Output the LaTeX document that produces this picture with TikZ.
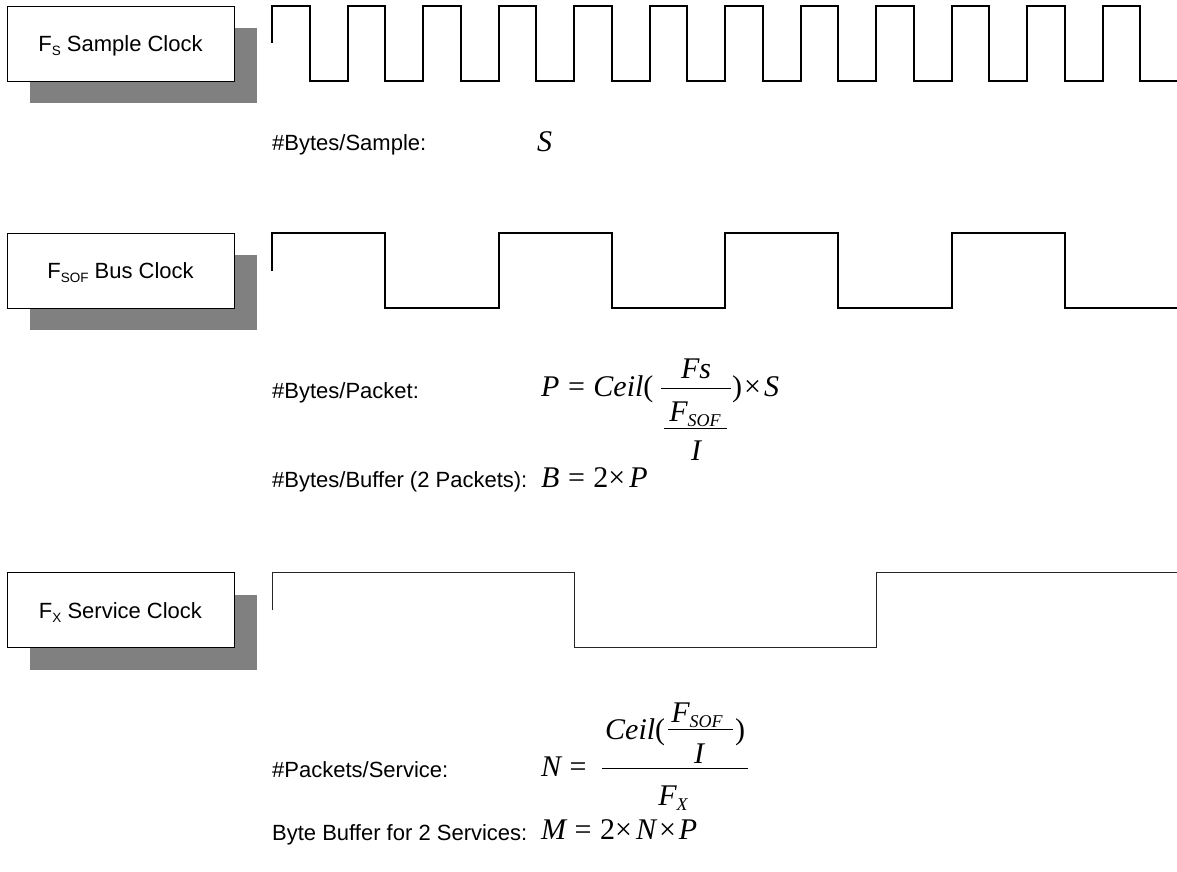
\documentclass[tikz,border=0pt]{standalone}
\usepackage{fontspec}
\setmainfont{Liberation Sans}
\newfontfamily\tms{Liberation Serif}
\usetikzlibrary{shadows}
\definecolor{shadowgray}{HTML}{808080}
\newcommand\lblfont{\fontsize{22}{26}\selectfont}
\newcommand\mfont{\fontsize{30}{34}\selectfont\tms\itshape}
\newcommand\up[1]{{\upshape #1}}
\newcommand\eqs{\hspace{8.5pt}\up{=}\hspace{8.5pt}}
\newcommand\bsub[1]{\raisebox{-4pt}{\fontsize{13.5}{14}\selectfont #1}}
\newcommand\msub[1]{\raisebox{-5pt}{\fontsize{18}{18}\selectfont #1}}
\begin{document}
\begin{tikzpicture}[x=1pt,y=-1pt,
  clockbox/.style={draw=black, line width=0.8pt, fill=white, minimum width=227pt, minimum height=75pt,
    inner sep=0pt, text height=16pt, text depth=0pt, font=\lblfont,
    drop shadow={shadow xshift=23pt, shadow yshift=-22pt, fill=shadowgray, opacity=1}},
  lbl/.style={font=\lblfont, anchor=base west, inner sep=0pt},
  mth/.style={font=\mfont, anchor=base west, inner sep=0pt},
  mthc/.style={font=\mfont, anchor=base, inner sep=0pt},
  fastwave/.style={line width=2pt, line join=miter},
  slowwave/.style={line width=1pt, draw=black!85},
  fracbar/.style={line width=1pt}]
\useasboundingbox (0,0) rectangle (1177,871);

% clock boxes
\node[clockbox] (fs)   at (120.5,43.5) {F\bsub{S} Sample Clock};
\node[clockbox] (fsof) at (120.5,270.5) {F\bsub{SOF} Bus Clock};
\node[clockbox] (fx)   at (120.5,610) {F\bsub{X} Service Clock};

% waveforms
\draw[fastwave] (272,43) -- (272,5.5)
  \foreach \k in {1,...,11} { -- ++(37.75,0) -- ++(0,75.5) -- ++(37.75,0) -- ++(0,-75.5) }
  -- ++(37.75,0) -- ++(0,75.5) -- (1177,81);
\draw[fastwave] (272,271) -- (272,233)
  \foreach \k in {1,2,3} { -- ++(113.25,0) -- ++(0,75) -- ++(113.25,0) -- ++(0,-75) }
  -- ++(113.25,0) -- ++(0,75) -- (1177,308);
\draw[slowwave] (272,610) -- (272,572.3) -- (574,572.3) -- (574,647) -- (876,647)
  -- (876,572.3) -- (1177,572.3);

% bytes per sample
\node[lbl] (lS) at (272,150) {\#Bytes/Sample:};
\node[mth] (fS) at (537,151) {S};

% bytes per packet
\node[lbl] (lP) at (272,398) {\#Bytes/Packet:};
\node[mth] (pA) at (541,396) {P\eqs Ceil\up{(}};
\coordinate (pbar1s) at (661,388); \coordinate (pbar1e) at (731,388);
\draw[fracbar] (pbar1s) -- (pbar1e);
\node[mthc] (pFs) at (696,378) {Fs};
\node[mthc] (pFsof) at (695,421) {F\msub{SOF}};
\coordinate (pbar2s) at (664,428); \coordinate (pbar2e) at (727,428);
\draw[fracbar] (pbar2s) -- (pbar2e);
\node[mthc] (pI) at (696,460) {I};
\node[mth] (pZ) at (732,396) {\up{)}\hspace{2pt}\up{×}\hspace{3pt}S};

% bytes per buffer
\node[lbl] (lB) at (272,487) {\#Bytes/Buffer (2 Packets):};
\node[mth] (fB) at (541,487) {B\eqs\up{2×}\hspace{4pt}P};

% packets per service
\node[lbl] (lN) at (272,777) {\#Packets/Service:};
\node[mth] (nA) at (541,776) {N\eqs};
\coordinate (nbar1s) at (602,768.3); \coordinate (nbar1e) at (748,768.3);
\draw[fracbar] (nbar1s) -- (nbar1e);
\node[mth] (nC) at (605,739) {Ceil\up{(}};
\node[mthc] (nFsof) at (697,722) {F\msub{SOF}};
\coordinate (nbar2s) at (668,729.3); \coordinate (nbar2e) at (733,729.3);
\draw[fracbar] (nbar2s) -- (nbar2e);
\node[mthc] (nI) at (699,763) {I};
\node[mth] (nR) at (735,739) {\up{)}};
\node[mthc] (nFx) at (673,805) {F\msub{X}};

% byte buffer for two services
\node[lbl] (lM) at (272,840) {Byte Buffer for 2 Services:};
\node[mth] (fM) at (541,839) {M\eqs\up{2×}\hspace{4pt}N\hspace{3pt}\up{×}\hspace{3pt}P};
\end{tikzpicture}
\end{document}
